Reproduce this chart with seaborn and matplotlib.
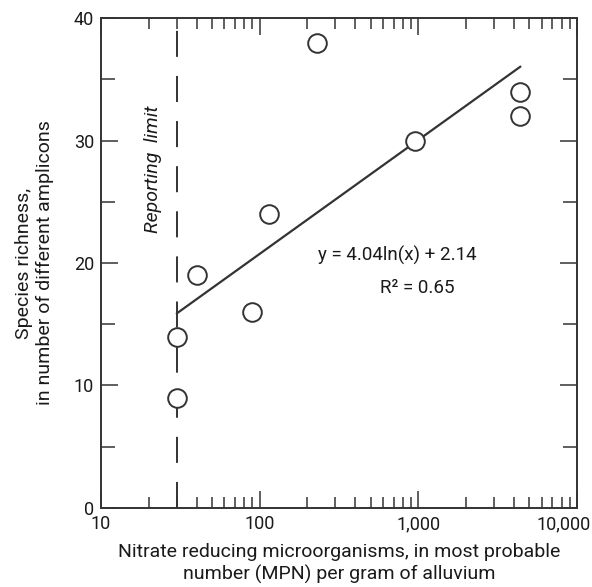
import numpy as np
import pandas as pd
import seaborn as sns
import matplotlib.pyplot as plt
import matplotlib.transforms as mtransforms
from matplotlib.ticker import FixedLocator, FuncFormatter

# MPN per gram of alluvium vs number of different amplicons
mpn = [30, 30, 40, 90, 115, 230, 950, 4400, 4400]
richness = [9, 14, 19, 16, 24, 38, 30, 34, 32]

# fitted curve reported on the chart
slope = 4.04
intercept = 2.14
r2 = 0.65
reporting_limit = 30

x_ticks = [10, 100, 1000, 10000]
y_ticks = [0, 10, 20, 30, 40]


def main():
    sns.set_style('white')
    plt.rcParams['font.family'] = ['Roboto', 'DejaVu Sans']
    ink = '#333333'
    txt = '#1a1a1a'

    fig = plt.figure(figsize=(5.92, 5.87), dpi=100)
    ax = fig.add_axes([0.1706, 0.1346, 0.8041, 0.8347])

    df = pd.DataFrame({'mpn': mpn, 'richness': richness})
    xfit = np.geomspace(min(mpn), max(mpn), 100)
    fit = pd.DataFrame({'mpn': xfit, 'richness': slope * np.log(xfit) + intercept})

    ax.axvline(reporting_limit, color=ink, lw=1.4, dashes=(13.4, 9.8), zorder=1)
    sns.lineplot(data=fit, x='mpn', y='richness', color=ink, lw=1.6, ax=ax, zorder=2)
    sns.scatterplot(data=df, x='mpn', y='richness', s=180, marker='o',
                    facecolor='white', edgecolor=ink, linewidth=1.4, ax=ax, zorder=3)

    ax.set_xscale('log')
    ax.set_xlim(10, 10000)
    ax.set_ylim(0, 40)
    ax.xaxis.set_major_locator(FixedLocator(x_ticks))
    ax.xaxis.set_major_formatter(FuncFormatter(lambda v, p: f'{int(v):,}'))
    minors = [m * d for d in (10, 100, 1000) for m in range(2, 10)]
    ax.xaxis.set_minor_locator(FixedLocator(minors))
    ax.yaxis.set_major_locator(FixedLocator(y_ticks))
    ax.yaxis.set_minor_locator(FixedLocator([5, 15, 25, 35]))

    ax.tick_params(which='both', direction='in', left=True, bottom=True, top=True,
                   right=True, colors=ink, width=1.1, labelsize=13, labelcolor=txt)
    ax.tick_params(which='major', length=12, pad=5)
    ax.tick_params(which='minor', length=8)
    ax.tick_params(axis='y', which='both', length=10)
    ax.tick_params(axis='y', which='major', length=12)

    for sp in ax.spines.values():
        sp.set_color(ink)
        sp.set_linewidth(1.4)

    # keep the last x label inside the canvas, as in the original
    fig.canvas.draw()
    last = ax.get_xticklabels()[-1]
    last.set_transform(last.get_transform() +
                       mtransforms.ScaledTranslation(-10 / 72, 0, fig.dpi_scale_trans))

    ax.set_xlabel('Nitrate reducing microorganisms, in most probable\nnumber (MPN) per gram of alluvium',
                  fontsize=14, color=txt, labelpad=7, linespacing=1.25)
    ax.set_ylabel('Species richness,\nin number of different amplicons',
                  fontsize=14, color=txt, labelpad=14, linespacing=1.2)

    ax.text(0.109, 0.692, 'Reporting  limit', rotation=90, style='italic', fontsize=14,
            color=txt, transform=ax.transAxes, ha='center', va='center')
    ax.text(0.623, 0.516, f'y = {slope:.2f}ln(x) + {intercept:.2f}', fontsize=13.5,
            color=txt, transform=ax.transAxes, ha='center', va='center')
    ax.text(0.664, 0.449, f'R² = {r2:.2f}', fontsize=13.5,
            color=txt, transform=ax.transAxes, ha='center', va='center')

    fig.savefig('out.png', dpi=100)
    plt.close(fig)


if __name__ == '__main__':
    main()
